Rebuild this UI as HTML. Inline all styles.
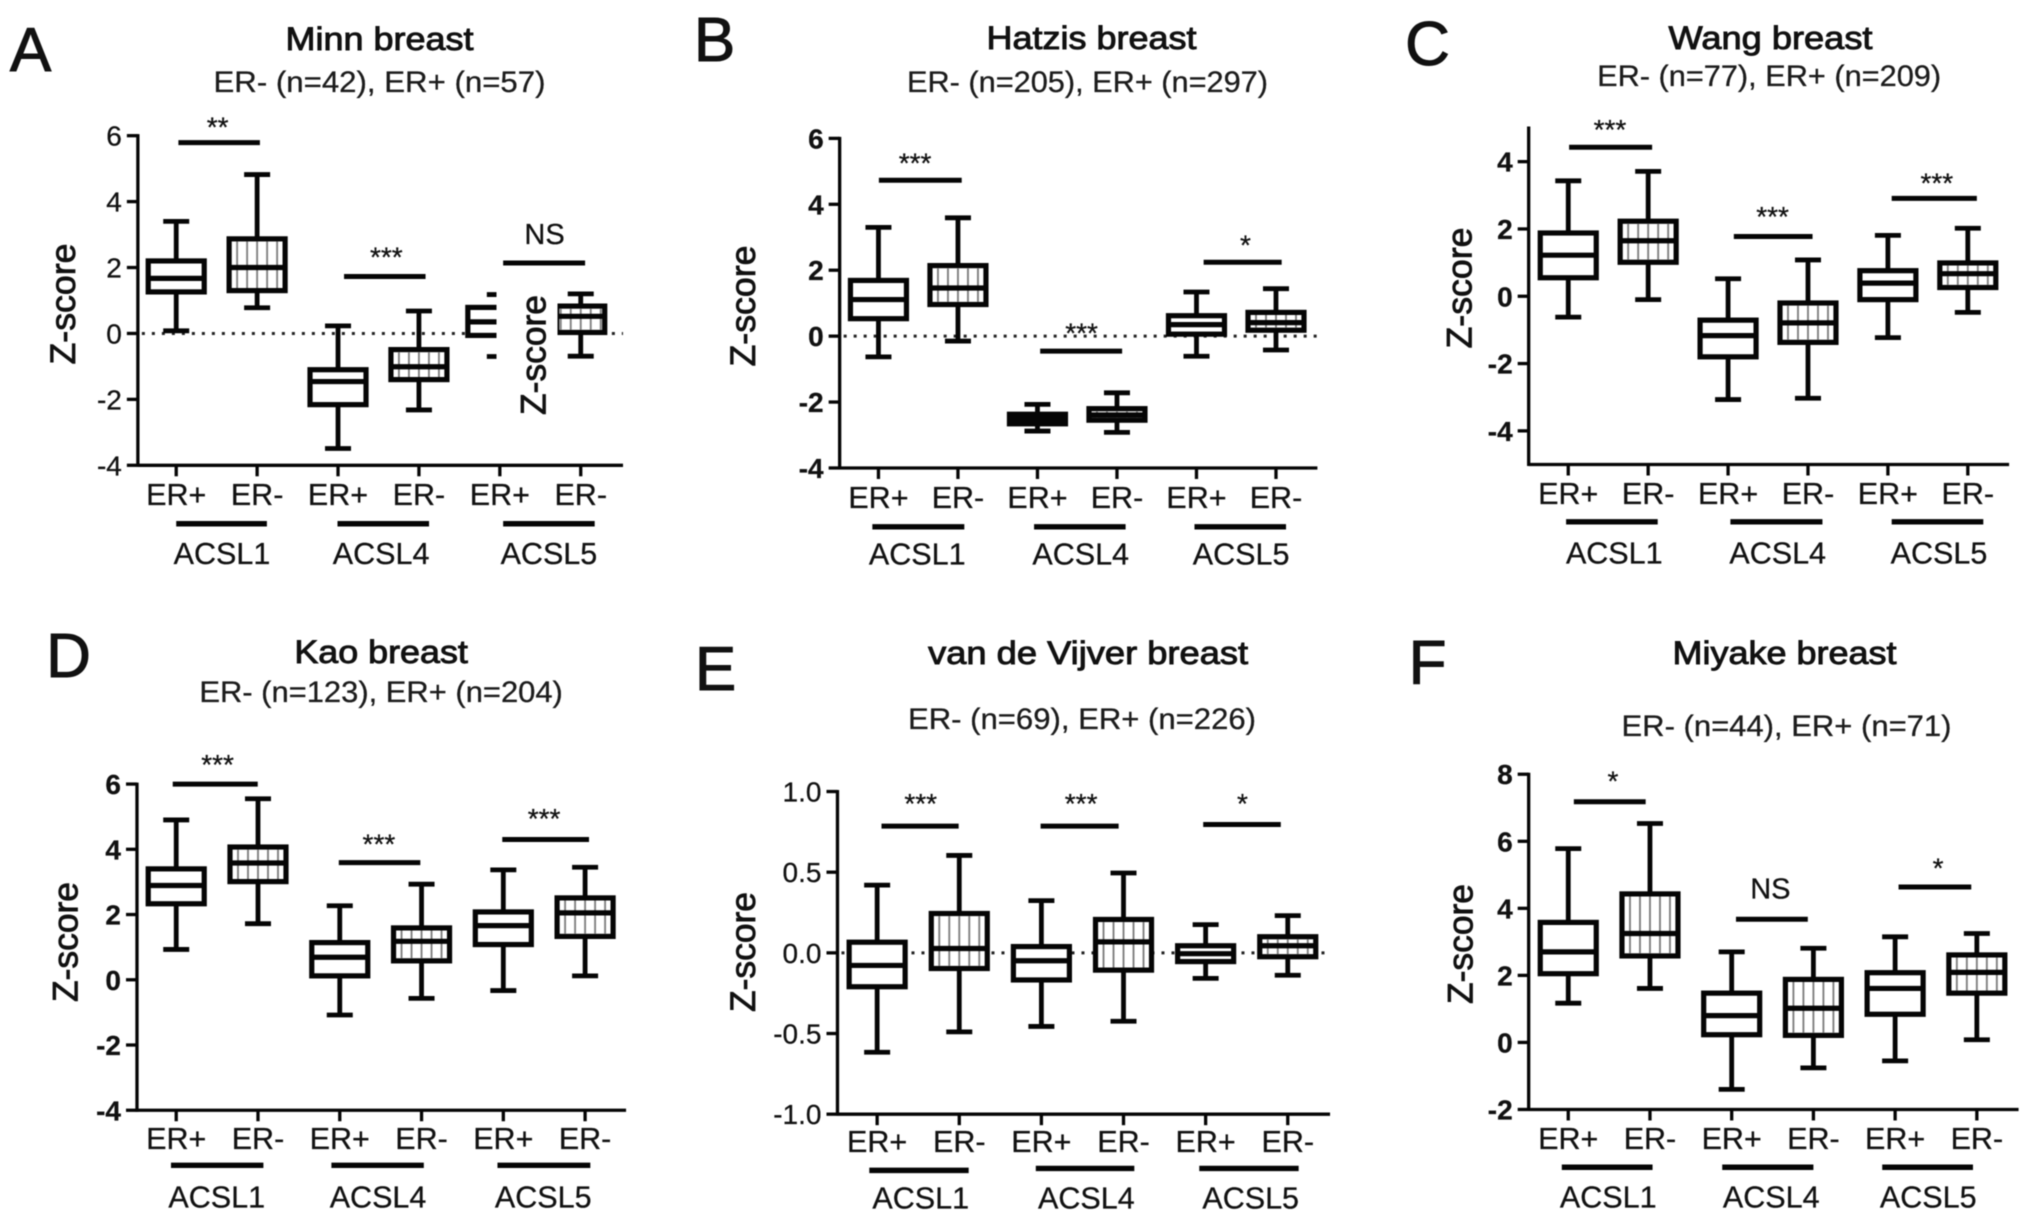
<!DOCTYPE html>
<html lang="en">
<head>
<meta charset="utf-8">
<title>ACSL expression by ER status in breast cancer datasets</title>
<style>
  html, body { margin: 0; padding: 0; background: #fff; }
  body { width: 2031px; height: 1223px; overflow: hidden; }
  svg { display: block; filter: blur(0.55px); font-family: "Liberation Sans", Arial, sans-serif; }
  text { fill: #111; }
  .letter { font-size: 62px; text-anchor: middle; stroke: #111; stroke-width: 1px; }
  .title { font-size: 32px; text-anchor: middle; stroke: #111; stroke-width: 0.9px; }
  .sub { font-size: 30px; text-anchor: middle; fill: #1c1c1c; stroke: #1c1c1c; stroke-width: 0.3px; }
  .ytitle { font-size: 35px; text-anchor: middle; stroke: #111; stroke-width: 0.8px; }
  .plain-label { stroke: #1c1c1c; stroke-width: 0.3px; }
</style>
</head>
<body>
<svg id="figure" width="2031" height="1223" viewBox="0 0 2031 1223" xmlns="http://www.w3.org/2000/svg">
  <rect x="0" y="0" width="2031" height="1223" fill="#fff"/>
  <g transform="translate(-2.5,-2)">
  <g id="plots"></g>

  <g>
    <text class="letter" x="33" y="73">A</text>
    <text class="title" x="382" y="52" textLength="188" lengthAdjust="spacingAndGlyphs">Minn breast</text>
    <text class="sub" x="382" y="94" textLength="332" lengthAdjust="spacingAndGlyphs">ER- (n=42), ER+ (n=57)</text>
    <text class="ytitle" transform="translate(77.6,306) rotate(-90)" textLength="121" lengthAdjust="spacingAndGlyphs">Z-score</text>
    <rect x="499" y="285" width="61" height="140" fill="#fff"/>
    <text class="ytitle" transform="translate(548,357) rotate(-90)" textLength="120" lengthAdjust="spacingAndGlyphs">Z-score</text>
  </g>
  <g>
    <text class="letter" x="717" y="63">B</text>
    <text class="title" x="1094" y="51" textLength="210" lengthAdjust="spacingAndGlyphs">Hatzis breast</text>
    <text class="sub" x="1090" y="94" textLength="361" lengthAdjust="spacingAndGlyphs">ER- (n=205), ER+ (n=297)</text>
    <text class="ytitle" transform="translate(757.6,308) rotate(-90)" textLength="121" lengthAdjust="spacingAndGlyphs">Z-score</text>
  </g>
  <g>
    <text class="letter" x="1430" y="67">C</text>
    <text class="title" x="1773" y="51" textLength="204" lengthAdjust="spacingAndGlyphs">Wang breast</text>
    <text class="sub" x="1771.6" y="88" textLength="344" lengthAdjust="spacingAndGlyphs">ER- (n=77), ER+ (n=209)</text>
    <text class="ytitle" transform="translate(1474,290) rotate(-90)" textLength="121" lengthAdjust="spacingAndGlyphs">Z-score</text>
  </g>
  <g>
    <text class="letter" x="71" y="679">D</text>
    <text class="title" x="383.6" y="665" textLength="173.5" lengthAdjust="spacingAndGlyphs">Kao breast</text>
    <text class="sub" x="383.6" y="704" textLength="363.5" lengthAdjust="spacingAndGlyphs">ER- (n=123), ER+ (n=204)</text>
    <text class="ytitle" transform="translate(80,944) rotate(-90)" textLength="120" lengthAdjust="spacingAndGlyphs">Z-score</text>
  </g>
  <g>
    <text class="letter" x="718" y="692">E</text>
    <text class="title" x="1090.6" y="666" textLength="320" lengthAdjust="spacingAndGlyphs">van de Vijver breast</text>
    <text class="sub" x="1084.5" y="731" textLength="348" lengthAdjust="spacingAndGlyphs">ER- (n=69), ER+ (n=226)</text>
    <text class="ytitle" transform="translate(757.6,954) rotate(-90)" textLength="120" lengthAdjust="spacingAndGlyphs">Z-score</text>
  </g>
  <g>
    <text class="letter" x="1430" y="686">F</text>
    <text class="title" x="1787" y="666" textLength="224" lengthAdjust="spacingAndGlyphs">Miyake breast</text>
    <text class="sub" x="1789" y="738" textLength="330" lengthAdjust="spacingAndGlyphs">ER- (n=44), ER+ (n=71)</text>
    <text class="ytitle" transform="translate(1475,946) rotate(-90)" textLength="120" lengthAdjust="spacingAndGlyphs">Z-score</text>
  </g>
  </g>
</svg>

<script>
// Shared category labels
const categories = ['ER+', 'ER-', 'ER+', 'ER-', 'ER+', 'ER-'];
const genes = ['ACSL1', 'ACSL4', 'ACSL5'];

// Panel A: Minn breast
const minnTicks = ['6', '4', '2', '0', '-2', '-4'];
const minnLow = [0.08, 0.78, -3.49, -2.32, -0.7, -0.69];
const minnQ1 = [1.26, 1.3, -2.16, -1.4, -0.06, 0.03];
const minnMedian = [1.67, 2.0, -1.46, -1.01, 0.35, 0.52];
const minnQ3 = [2.2, 2.87, -1.1, -0.49, 0.79, 0.83];
const minnHigh = [3.4, 4.82, 0.23, 0.68, 1.18, 1.2];
const minnSig = ['**', '***', 'NS'];

// Panel B: Hatzis breast
const hatzisTicks = ['6', '4', '2', '0', '-2', '-4'];
const hatzisLow = [-0.63, -0.15, -2.88, -2.92, -0.61, -0.42];
const hatzisQ1 = [0.53, 0.96, -2.66, -2.55, 0.06, 0.18];
const hatzisMedian = [1.11, 1.46, -2.51, -2.39, 0.35, 0.41];
const hatzisQ3 = [1.69, 2.14, -2.37, -2.2, 0.62, 0.72];
const hatzisHigh = [3.3, 3.59, -2.07, -1.72, 1.34, 1.44];
const hatzisSig = ['***', '***', '*'];

// Panel C: Wang breast
const wangTicks = ['4', '2', '0', '-2', '-4'];
const wangLow = [-0.62, -0.1, -3.07, -3.03, -1.23, -0.48];
const wangQ1 = [0.55, 1.01, -1.8, -1.37, -0.1, 0.26];
const wangMedian = [1.22, 1.65, -1.17, -0.79, 0.39, 0.67];
const wangQ3 = [1.88, 2.23, -0.71, -0.2, 0.76, 0.99];
const wangHigh = [3.43, 3.71, 0.52, 1.08, 1.81, 2.02];
const wangSig = ['***', '***', '***'];

// Panel D: Kao breast
const kaoTicks = ['6', '4', '2', '0', '-2', '-4'];
const kaoLow = [0.93, 1.72, -1.08, -0.57, -0.33, 0.12];
const kaoQ1 = [2.33, 3.01, 0.12, 0.58, 1.08, 1.33];
const kaoMedian = [2.89, 3.58, 0.69, 1.18, 1.66, 2.05];
const kaoQ3 = [3.4, 4.07, 1.14, 1.59, 2.08, 2.51];
const kaoHigh = [4.9, 5.55, 2.27, 2.93, 3.37, 3.45];
const kaoSig = ['***', '***', '***'];

// Panel E: van de Vijver breast
const vijverTicks = ['1.0', '0.5', '0.0', '-0.5', '-1.0'];
const vijverLow = [-0.616, -0.49, -0.456, -0.424, -0.158, -0.139];
const vijverQ1 = [-0.21, -0.097, -0.168, -0.107, -0.054, -0.024];
const vijverMedian = [-0.078, 0.027, -0.049, 0.068, -0.005, 0.044];
const vijverQ3 = [0.066, 0.244, 0.039, 0.207, 0.044, 0.1];
const vijverHigh = [0.42, 0.604, 0.324, 0.495, 0.175, 0.231];
const vijverSig = ['***', '***', '*'];

// Panel F: Miyake breast
const miyakeTicks = ['8', '6', '4', '2', '0', '-2'];
const miyakeLow = [1.17, 1.61, -1.4, -0.76, -0.55, 0.08];
const miyakeQ1 = [2.05, 2.58, 0.23, 0.21, 0.84, 1.47];
const miyakeMedian = [2.7, 3.25, 0.8, 1.02, 1.61, 2.09];
const miyakeQ3 = [3.58, 4.43, 1.47, 1.88, 2.08, 2.61];
const miyakeHigh = [5.78, 6.53, 2.7, 2.81, 3.15, 3.25];
const miyakeSig = ['*', 'NS', '*'];

// Layout, measured in crop units: pixel = offset + unit * scale
const layouts = [
  { id: 'a', ox: 0, oy: 0, sx: 0.4359, sy: 0.3846, axisX: 322, axisEnd: 1435, top: 358, bottom: 1215, cat0: 410, step: 185.6, yMin: -4, yMax: 6, bold: false, zero: true,
    ticks: minnTicks, low: minnLow, q1: minnQ1, median: minnMedian, q3: minnQ3, high: minnHigh, sig: minnSig,
    sigPos: [[415, 602, 376, 505, 325], [795, 982, 724, 892, 663], [1160, 1348, 689, 1255, 615]],
    groupPos: [[410, 618, 1367, 515], [780, 990, 1367, 880], [1160, 1370, 1367, 1265]], erY: 1295, geneY: 1448, boxHalf: { 4: 32, 5: 24 } },
  { id: 'b', ox: 680, oy: 0, sx: 0.4359, sy: 0.3846, axisX: 372, axisEnd: 1468, top: 365, bottom: 1222, cat0: 461, step: 182.4, yMin: -4, yMax: 6, bold: true, zero: true,
    ticks: hatzisTicks, low: hatzisLow, q1: hatzisQ1, median: hatzisMedian, q3: hatzisQ3, high: hatzisHigh, sig: hatzisSig,
    sigPos: [[462, 652, 474, 545, 418], [832, 1020, 918, 927, 860], [1207, 1386, 687, 1303, 632]],
    groupPos: [[447, 658, 1375, 550], [818, 1028, 1375, 925], [1186, 1396, 1375, 1293]], erY: 1303, geneY: 1450, boxHalf: {} },
  { id: 'c', ox: 1360, oy: 0, sx: 0.4301, sy: 0.3846, axisX: 398, axisEnd: 1515, top: 338, bottom: 1213, cat0: 490, step: 185.8, yMin: -5, yMax: 5, bold: true, zero: false,
    ticks: wangTicks, low: wangLow, q1: wangQ1, median: wangMedian, q3: wangQ3, high: wangHigh, sig: wangSig,
    sigPos: [[492, 685, 388, 587, 332], [875, 1058, 620, 965, 558], [1242, 1440, 521, 1347, 470]],
    groupPos: [[485, 698, 1362, 597], [867, 1081, 1362, 977], [1242, 1455, 1362, 1352]], erY: 1293, geneY: 1447, boxHalf: {} },
  { id: 'd', ox: 0, oy: 610, sx: 0.4359, sy: 0.393, axisX: 320, axisEnd: 1442, top: 448, bottom: 1278, cat0: 410, step: 187.6, yMin: -4, yMax: 6, bold: true, zero: false,
    ticks: kaoTicks, low: kaoLow, q1: kaoQ1, median: kaoMedian, q3: kaoQ3, high: kaoHigh, sig: kaoSig,
    sigPos: [[402, 597, 448, 505, 388], [783, 970, 648, 875, 590], [1158, 1357, 589, 1254, 525]],
    groupPos: [[398, 610, 1418, 503], [766, 978, 1418, 873], [1147, 1360, 1418, 1252]], erY: 1355, geneY: 1503, boxHalf: {} },
  { id: 'e', ox: 680, oy: 610, sx: 0.4359, sy: 0.393, axisX: 367, axisEnd: 1497, top: 467, bottom: 1288, cat0: 458, step: 188.4, yMin: -1, yMax: 1, bold: false, zero: true,
    ticks: vijverTicks, low: vijverLow, q1: vijverQ1, median: vijverMedian, q3: vijverQ3, high: vijverHigh, sig: vijverSig,
    sigPos: [[468, 645, 555, 558, 487], [833, 1012, 555, 926, 487], [1206, 1384, 551, 1296, 487]],
    groupPos: [[440, 668, 1431, 558], [822, 1048, 1426, 938], [1197, 1425, 1426, 1315]], erY: 1362, geneY: 1505, boxHalf: {} },
  { id: 'f', ox: 1360, oy: 610, sx: 0.4301, sy: 0.393, axisX: 398, axisEnd: 1537, top: 423, bottom: 1276, cat0: 490, step: 190, yMin: -2, yMax: 8, bold: true, zero: false,
    ticks: miyakeTicks, low: miyakeLow, q1: miyakeQ1, median: miyakeMedian, q3: miyakeQ3, high: miyakeHigh, sig: miyakeSig,
    sigPos: [[503, 670, 493, 594, 430], [880, 1047, 792, 960, 715], [1258, 1427, 710, 1350, 652]],
    groupPos: [[475, 686, 1423, 583], [848, 1060, 1423, 962], [1220, 1431, 1423, 1327]], erY: 1355, geneY: 1503, boxHalf: {} }
];

const SVG_NS = 'http://www.w3.org/2000/svg';
const INK = '#050505';

function add(parent, tag, attrs, text) {
  const el = document.createElementNS(SVG_NS, tag);
  Object.keys(attrs).forEach(function (k) { el.setAttribute(k, attrs[k]); });
  if (text !== undefined) el.textContent = text;
  parent.appendChild(el);
  return el;
}

function drawPanel(p, root) {
  const px = function (u) { return p.ox + u * p.sx; };
  const py = function (u) { return p.oy + u * p.sy; };
  const yScale = function (v) {
    const a = py(p.top), b = py(p.bottom);
    return a + (p.yMax - v) / (p.yMax - p.yMin) * (b - a);
  };
  const xScale = function (i) { return px(p.cat0 + i * p.step); };

  const g = add(root, 'g', {});
  
  

  if (p.zero) {
    const zeroLine = add(g, 'line', { x1: px(p.axisX) + 4, x2: px(p.axisEnd), y1: yScale(0), y2: yScale(0), stroke: '#222', 'stroke-width': 3, 'stroke-dasharray': '3 7' });
    
    
  }

  // Axes
  const yAxis = add(g, 'line', { x1: px(p.axisX), x2: px(p.axisX), y1: py(p.top) - 1.5, y2: py(p.bottom) + 1.5, stroke: INK, 'stroke-width': 3.3 });
  
  
  const xAxis = add(g, 'line', { x1: px(p.axisX), x2: px(p.axisEnd), y1: py(p.bottom), y2: py(p.bottom), stroke: INK, 'stroke-width': 3.3 });
  
  

  p.ticks.forEach(function (label) {
    const v = parseFloat(label);
    const y = yScale(v);
    const tick = add(g, 'line', { x1: px(p.axisX) - 11, x2: px(p.axisX), y1: y, y2: y, stroke: INK, 'stroke-width': 3.3 });
    
    
    const tickText = add(g, 'text', { x: px(p.axisX) - 16, y: y + 10, 'text-anchor': 'end', 'font-size': 28, 'font-weight': p.bold ? 'bold' : 'normal', class: 'plain-label' }, label);
    
    
  });

  // Category ticks and labels
  categories.forEach(function (cat, i) {
    const x = xScale(i);
    const tick = add(g, 'line', { x1: x, x2: x, y1: py(p.bottom), y2: py(p.bottom) + 11, stroke: INK, 'stroke-width': 3.3 });
    
    
    const catText = add(g, 'text', { x: x, y: py(p.erY) + 8.7, 'text-anchor': 'middle', 'font-size': 30.5, class: 'plain-label' }, cat);
    
    
  });

  // Boxes
  const boxStroke = 5.2;
  const whiskerStroke = 4.8;
  categories.forEach(function (cat, i) {
    const x = xScale(i);
    const half = p.boxHalf[i] || 28;
    const capHalf = 13;
    const yLow = yScale(p.low[i]);
    const yHigh = yScale(p.high[i]);
    const yQ1 = yScale(p.q1[i]);
    const yQ3 = yScale(p.q3[i]);
    const yMed = yScale(p.median[i]);

    const box = add(g, 'g', {});
    
    

    const whisker = add(box, 'line', { x1: x, x2: x, y1: yHigh, y2: yLow, stroke: INK, 'stroke-width': whiskerStroke });
    
    
    const capHigh = add(box, 'line', { x1: x - capHalf, x2: x + capHalf, y1: yHigh, y2: yHigh, stroke: INK, 'stroke-width': whiskerStroke });
    
    
    const capLow = add(box, 'line', { x1: x - capHalf, x2: x + capHalf, y1: yLow, y2: yLow, stroke: INK, 'stroke-width': whiskerStroke });
    
    

    const rect = add(box, 'rect', { x: x - half, y: yQ3, width: half * 2, height: yQ1 - yQ3, fill: '#fff', stroke: INK, 'stroke-width': boxStroke });
    
    

    if (cat === 'ER-') {
      [-2, -1, 0, 1, 2].forEach(function (k) {
        const y1 = yQ3 + boxStroke / 2;
        const y2 = yQ1 - boxStroke / 2;
        if (y2 > y1) {
          const hatch = add(box, 'line', { x1: x + k * 10, x2: x + k * 10, y1: y1, y2: y2, stroke: '#808080', 'stroke-width': 1.9 });
          
          
        }
      });
    }

    const median = add(box, 'line', { x1: x - half, x2: x + half, y1: yMed, y2: yMed, stroke: INK, 'stroke-width': boxStroke });
    
    
  });

  // Significance brackets
  p.sig.forEach(function (label, i) {
    const s = p.sigPos[i];
    const bar = add(g, 'line', { x1: px(s[0]), x2: px(s[1]), y1: py(s[2]), y2: py(s[2]), stroke: INK, 'stroke-width': 5 });
    
    
    const isNs = label === 'NS';
    const sigText = add(g, 'text', { x: px(s[3]), y: py(s[4]) + (isNs ? 9.4 : 13.5), 'text-anchor': 'middle', 'font-size': isNs ? 29 : 28, class: 'plain-label' }, label);
    
    
  });

  // Gene group bars and labels
  genes.forEach(function (gene, i) {
    const s = p.groupPos[i];
    const bar = add(g, 'line', { x1: px(s[0]), x2: px(s[1]), y1: py(s[2]), y2: py(s[2]), stroke: INK, 'stroke-width': 5.4 });
    
    
    const geneText = add(g, 'text', { x: px(s[3]), y: py(p.geneY) + 8.9, 'text-anchor': 'middle', 'font-size': 30.5, class: 'plain-label' }, gene);
    
    
  });
}

const plotsRoot = document.getElementById('plots');
layouts.forEach(function (p) { drawPanel(p, plotsRoot); });
</script>
</body>
</html>
